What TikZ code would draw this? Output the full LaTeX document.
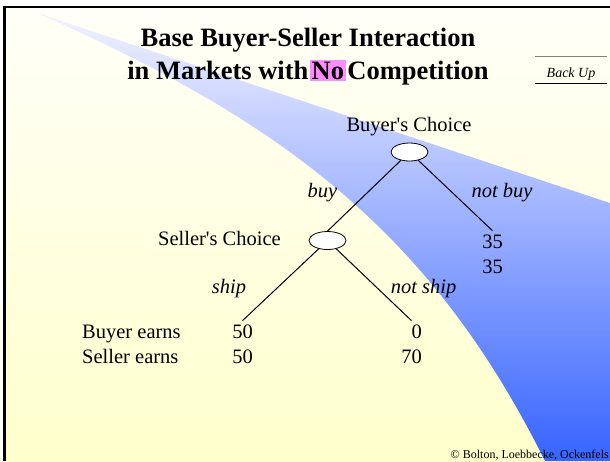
\documentclass[tikz,border=0pt]{standalone}
\usepackage{fontspec}
\setmainfont{Liberation Serif}
\usetikzlibrary{shapes.geometric}

\definecolor{slidetop}{RGB}{255,255,248}
\definecolor{slidemid}{RGB}{255,255,215}
\definecolor{slidebottom}{RGB}{255,255,204}
\definecolor{swooshtop}{RGB}{242,242,255}
\definecolor{swooshmid}{RGB}{190,198,255}
\definecolor{swooshbottom}{RGB}{55,100,255}
\definecolor{hilite}{RGB}{255,140,255}

\begin{document}
\begin{tikzpicture}[x=1pt, y=-1pt,
choicenode/.style={ellipse, draw, fill=white, line width=0.8pt, minimum width=37pt, minimum height=18pt, inner sep=0pt},
labeltext/.style={font=\fontsize{20.5}{25}\selectfont, inner sep=0pt},
movetext/.style={font=\fontsize{20.5}{25}\selectfont\itshape, inner sep=0pt},
payoff/.style={labeltext, align=right, inner sep=3.5pt},
titletext/.style={font=\fontsize{26.5}{32}\selectfont\bfseries, inner sep=0pt},
treeline/.style={line width=1pt},
]
\useasboundingbox (0,0) rectangle (610,461);

%Background
\fill[white] (0,0) rectangle (610,461);
\shade[top color=slidetop, middle color=slidemid, bottom color=slidebottom] (4.7,7) rectangle (610,461);
\shade[top color=swooshtop, middle color=swooshmid, bottom color=swooshbottom]
  (37,13) -- (610,203) -- (610,461) -- (545,461) .. controls (430,230) and (280,120) .. (37,13) -- cycle;
\draw[line width=2.6pt] (4.7,461) -- (4.7,7) -- (610,7);

%Title
\node[titletext, anchor=base] (titleA) at (308,46) {Base Buyer-Seller Interaction};
\node[titletext, anchor=base] (titleB) at (308,79)
  {in Markets with\hspace{0.05em}{\setlength{\fboxsep}{2pt}\colorbox{hilite}{No}}\hspace{0.05em}Competition};
\node[font=\fontsize{14}{16}\selectfont\itshape, inner sep=0pt, minimum width=72pt, text height=20pt, text depth=6pt, anchor=base] (backup) at (571,77) {Back Up};
\draw[gray, line width=1pt] (backup.north west) -- (backup.north east);
\draw[line width=1pt] (backup.south west) -- (backup.south east);

%Nodes
\node[choicenode] (buyer) at (409.5,152) {};
\node[choicenode] (seller) at (327.5,240.5) {};
\node[labeltext, anchor=base] (buyerlabel) at (409,131) {Buyer\textquotesingle s Choice};
\node[labeltext, anchor=base east] (sellerlabel) at (281,245) {Seller\textquotesingle s Choice};
\node[payoff, anchor=base] (nobuy) at (492.5,273) {35\\35};
\node[payoff, anchor=base] (ship) at (242.5,363) {50\\50};
\node[payoff, anchor=base] (notship) at (411.5,363) {0\\70};
\node[labeltext, align=left, anchor=base west] (earnings) at (82,363) {Buyer earns\\Seller earns};

%Lines
\draw[treeline] (buyer) -- (seller.north);
\draw[treeline] (buyer) -- (nobuy.north);
\draw[treeline] (seller) -- (ship.north);
\draw[treeline] (seller) -- (notship.north);

%Moves
\node[movetext, anchor=base] (buymove) at (322.5,197) {buy};
\node[movetext, anchor=base] (notbuymove) at (502,197) {not buy};
\node[movetext, anchor=base] (shipmove) at (229,293) {ship};
\node[movetext, anchor=base] (notshipmove) at (423.5,293) {not ship};

\node[font=\fontsize{12}{14}\selectfont, inner sep=0pt, anchor=base east] (credit) at (609,458) {\textcopyright{} Bolton, Loebbecke, Ockenfels};
\end{tikzpicture}
\end{document}
